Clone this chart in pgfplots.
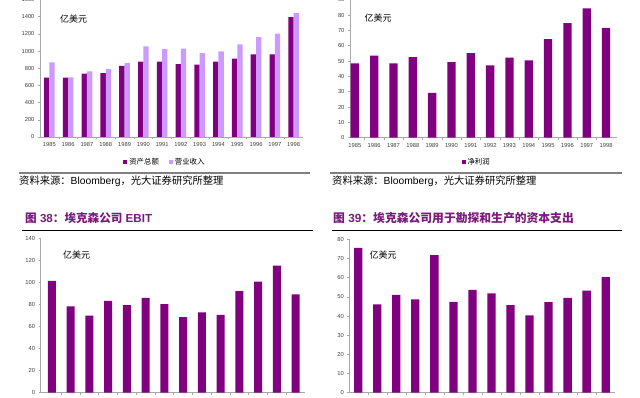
\documentclass[border=0pt]{standalone}
\usepackage{pgfplots}
\pgfplotsset{compat=1.18}
\usepackage{fontspec}
\setmainfont{Liberation Sans}
\newfontfamily\cjk{Noto Sans CJK SC}
\definecolor{dk}{HTML}{800080}
\definecolor{lt}{HTML}{CC99FF}
\definecolor{axc}{HTML}{A8A8A8}
\definecolor{tickc}{HTML}{404040}
\definecolor{titlec}{HTML}{7A1A7A}
\pgfplotsset{
  base/.style={
    scale only axis,
    axis x line*=bottom, axis y line*=left,
    axis line style={-, draw=axc, line width=0.6pt},
    every tick/.style={draw=axc, line width=0.5pt},
    tick align=outside,
    major tick length=2pt, minor tick length=2pt,
    xtick={0,...,13},
    x tick style={draw=none},
    minor xtick={0.5,1.5,...,12.5},
    minor x tick style={draw=axc},
    xticklabels={1985,1986,1987,1988,1989,1990,1991,1992,1993,1994,1995,1996,1997,1998},
    ticklabel style={font=\fontsize{5.8}{6}\selectfont, text=tickc},
    /pgf/number format/assume math mode=true,
    /pgf/number format/1000 sep={},
    ymin=0,
    clip=false,
  },
  sqleg/.style={legend image code/.code={\fill[##1] (0pt,-2pt) rectangle (4pt,2pt);}},
}
\begin{document}
\begin{tikzpicture}[x=1pt,y=1pt]
\useasboundingbox (0,0) rectangle (640,397);
\fill[white] (0,0) rectangle (640,397);
\clip (0,0) rectangle (640,397);

% ---------- top left ----------
\begin{axis}[base, at={(40pt,260pt)}, anchor=south west,
  width=263pt, height=137.5pt,
  xmin=-0.5, xmax=13.5, ymax=1600, ytick={0,200,...,1600},
  ybar=0pt, bar width=5.3pt,
  legend style={at={(0.475,-0.18)}, anchor=center, draw=none, fill=none,
    legend columns=2, font=\cjk\fontsize{7.4}{8}\selectfont,
    /tikz/every even column/.append style={column sep=8pt}},
  legend cell align=left]
\addplot[fill=dk, draw=none, sqleg] coordinates {
 (0,690) (1,690) (2,736) (3,744) (4,829) (5,876) (6,876) (7,849) (8,841) (9,876) (10,911) (11,961) (12,961) (13,1395)};
\addplot[fill=lt, draw=none, sqleg] coordinates {
 (0,868) (1,695) (2,764) (3,791) (4,860) (5,1054) (6,1023) (7,1027) (8,977) (9,996) (10,1078) (11,1163) (12,1202) (13,1442)};
\legend{资产总额, 营业收入}
\end{axis}

% ---------- top right ----------
\begin{axis}[base, at={(350pt,259.3pt)}, anchor=south west,
  width=266.7pt, height=138pt,
  xmin=-0.25, xmax=13.55, ymax=90, ytick={0,10,...,90},
  ybar=0pt, bar width=8.3pt,
  legend style={at={(0.475,-0.176)}, anchor=center, draw=none, fill=none,
    font=\cjk\fontsize{7.4}{8}\selectfont}]
\addplot[fill=dk, draw=none, sqleg] coordinates {
 (0,48.5) (1,53.5) (2,48.5) (3,52.6) (4,29.3) (5,49.3) (6,55.2) (7,47.2) (8,52.2) (9,50.4) (10,64.3) (11,74.8) (12,84.3) (13,71.7)};
\legend{净利润}
\end{axis}

% ---------- bottom left ----------
\begin{axis}[base, at={(40.7pt,4.3pt)}, anchor=south west,
  width=264.3pt, height=154.4pt,
  xmin=-0.59, xmax=13.5, ymax=140, ytick={0,20,...,140},
  ybar=0pt, bar width=8pt]
\addplot[fill=dk, draw=none] coordinates {
 (0,101.3) (1,78.3) (2,69.9) (3,83.2) (4,79.5) (5,85.9) (6,80.4) (7,68.6) (8,72.9) (9,70.5) (10,92.2) (11,100.7) (12,115.2) (13,89.2)};
\end{axis}

% ---------- bottom right ----------
\begin{axis}[base, at={(349.3pt,4.3pt)}, anchor=south west,
  width=265.7pt, height=153.4pt,
  xmin=-0.47, xmax=13.49, ymax=80, ytick={0,10,...,80},
  ybar=0pt, bar width=8.3pt]
\addplot[fill=dk, draw=none] coordinates {
 (0,75.5) (1,46.1) (2,51.0) (3,48.7) (4,71.7) (5,47.4) (6,53.6) (7,51.8) (8,45.7) (9,40.3) (10,47.3) (11,49.4) (12,53.2) (13,60.3)};
\end{axis}

% ---------- texts ----------
\node[font=\cjk\fontsize{9}{9}\selectfont] at (73.7pt,378pt) {亿美元};
\node[font=\cjk\fontsize{9}{9}\selectfont] at (378pt,379pt) {亿美元};
\node[font=\cjk\fontsize{9}{9}\selectfont] at (76.7pt,142pt) {亿美元};
\node[font=\cjk\fontsize{9}{9}\selectfont] at (383pt,142pt) {亿美元};

\draw[line width=1.5pt, draw=gray] (19pt,224pt) -- (310pt,224pt);
\draw[line width=1.5pt, draw=gray] (330pt,224pt) -- (622pt,224pt);
\node[anchor=west, inner sep=0pt, font=\fontsize{10.3}{11}\selectfont] at (19pt,216pt) {{\cjk 资料来源：}Bloomberg{\cjk ，光大证券研究所整理}};
\node[anchor=west, inner sep=0pt, font=\fontsize{10.3}{11}\selectfont] at (332pt,216pt) {{\cjk 资料来源：}Bloomberg{\cjk ，光大证券研究所整理}};

\node[anchor=west, inner sep=0pt, text=titlec, font=\bfseries\fontsize{11.6}{12}\selectfont] at (25pt,179pt) {{\cjk\bfseries 图} 38{\cjk\bfseries ：埃克森公司} EBIT};
\node[anchor=west, inner sep=0pt, text=titlec, font=\bfseries\fontsize{11.8}{12}\selectfont] at (333pt,179pt) {{\cjk\bfseries 图} 39{\cjk\bfseries ：埃克森公司用于勘探和生产的资本支出}};
\draw[line width=0.8pt] (22pt,167pt) -- (313pt,167pt);
\draw[line width=0.8pt] (332pt,167pt) -- (622pt,167pt);
\end{tikzpicture}
\end{document}
